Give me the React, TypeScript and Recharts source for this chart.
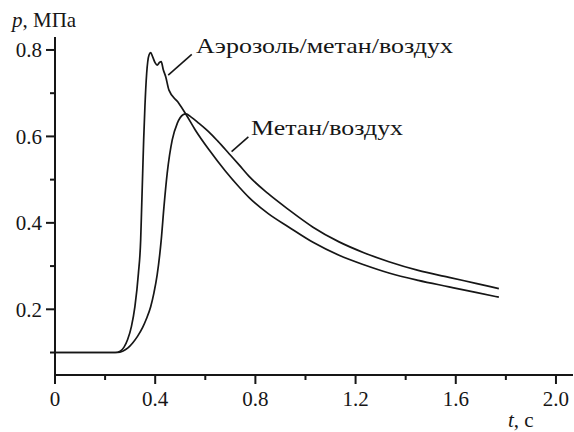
import { LineChart, Line, XAxis, YAxis, ReferenceLine, Customized } from 'recharts'

/* ─── data ─── */
const aerosolT = [
  0, 0.24, 0.26, 0.275, 0.29, 0.305, 0.319, 0.333, 0.342, 0.346, 0.35, 0.354, 0.359, 0.366,
  0.375, 0.382, 0.39, 0.4, 0.408, 0.417, 0.424, 0.432, 0.442, 0.455, 0.49, 0.522,
  0.56, 0.615, 0.68, 0.735, 0.774, 0.85, 0.934, 1.03, 1.134, 1.233, 1.333, 1.45,
  1.573, 1.68, 1.772,
]
const aerosolP = [
  0.1, 0.1, 0.103, 0.112, 0.13, 0.16, 0.206, 0.283, 0.36, 0.437, 0.515, 0.592, 0.669, 0.746,
  0.788, 0.794, 0.784, 0.77, 0.765, 0.771, 0.773, 0.755, 0.738, 0.707, 0.68, 0.652,
  0.615, 0.569, 0.52, 0.483, 0.459, 0.422, 0.39, 0.355, 0.325, 0.303, 0.284, 0.267,
  0.252, 0.239, 0.228,
]
const methaneT = [
  0, 0.25, 0.27, 0.29, 0.31, 0.33, 0.35, 0.365, 0.382, 0.395, 0.408, 0.424, 0.435, 0.448,
  0.468, 0.488, 0.511, 0.522, 0.545, 0.575, 0.615, 0.65, 0.695, 0.735, 0.774, 0.85, 0.934,
  1.03, 1.134, 1.233, 1.333, 1.45, 1.573, 1.68, 1.772,
]
const methaneP = [
  0.1, 0.1, 0.103, 0.11, 0.122, 0.138, 0.158, 0.178, 0.206, 0.238, 0.28, 0.36, 0.437, 0.515,
  0.592, 0.63, 0.65, 0.652, 0.644, 0.63, 0.61, 0.589, 0.56, 0.534, 0.508, 0.468, 0.43,
  0.39, 0.356, 0.331, 0.31, 0.29, 0.274, 0.26, 0.248,
]

const xTickValues = [0, 0.2, 0.4, 0.6, 0.8, 1.0, 1.2, 1.4, 1.6, 1.8, 2.0]
const xTickLabels = ['0', '', '0.4', '', '0.8', '', '1.2', '', '1.6', '', '2.0']
const yTickValues = [0.1, 0.2, 0.3, 0.4, 0.5, 0.6, 0.7, 0.8]
const yTickLabels = ['', '0.2', '', '0.4', '', '0.6', '', '0.8']

const aerosolData = aerosolT.map((t, i) => ({ t, p: aerosolP[i] }))
const methaneData = methaneT.map((t, i) => ({ t, p: methaneP[i] }))

const FONT = "'Liberation Serif'"
const INK = '#161616'
const txt = { fontFamily: FONT, fontSize: 21 }

function labelFor(values: number[], labels: string[], v: number) {
  const i = values.findIndex((x) => Math.abs(x - v) < 1e-6)
  return i < 0 ? '' : labels[i]
}

function XTick({ x, y, payload }: any) {
  const label = labelFor(xTickValues, xTickLabels, payload.value)
  return (
    <g>
      <line x1={x} x2={x} y1={y} y2={y + (label ? 9 : 5)} stroke={INK} strokeWidth={2} />
      {label && (
        <text className="serif" x={x} y={y + 31} textAnchor="middle" fill={INK} style={txt}>
          {label}
        </text>
      )}
    </g>
  )
}

function YTick({ x, y, payload }: any) {
  const label = labelFor(yTickValues, yTickLabels, payload.value)
  return (
    <g>
      <line x1={x - (label ? 9 : 5)} x2={x} y1={y} y2={y} stroke={INK} strokeWidth={2} />
      {label && (
        <text className="serif" x={x - 13} y={y + 7.5} textAnchor="end" fill={INK} style={txt}>
          {label}
        </text>
      )}
    </g>
  )
}

function Annotations() {
  return (
    <g fill={INK}>
      <style>{".serif { font-family: 'Liberation Serif', serif !important; }"}</style>
      <text className="serif" x={12} y={27} style={txt}>
        <tspan style={{ fontStyle: 'italic' }}>p</tspan>, МПа
      </text>
      <text className="serif" x={508} y={427} style={txt}>
        <tspan style={{ fontStyle: 'italic' }}>t</tspan>, с
      </text>
      <text className="serif" x={196} y={53} style={txt} textLength={257} lengthAdjust="spacingAndGlyphs">
        Аэрозоль/метан/воздух
      </text>
      <text className="serif" x={251} y={135} style={txt} textLength={152} lengthAdjust="spacingAndGlyphs">
        Метан/воздух
      </text>
    </g>
  )
}

export default function App() {
  return (
    <div style={{ position: 'absolute', left: 0, top: 0 }}>
      <LineChart width={574} height={432} margin={{ top: 37, right: 1, bottom: 0, left: 0 }}>
        <XAxis
          type="number" dataKey="t" domain={[0, 2.068]} ticks={xTickValues}
          allowDataOverflow height={57} tickSize={0} tickMargin={0} tickLine={false}
          axisLine={{ stroke: INK, strokeWidth: 2 }} tick={<XTick />} interval={0}
        />
        <YAxis
          type="number" dataKey="p" domain={[0.048, 0.83]} ticks={yTickValues}
          allowDataOverflow width={55} tickSize={0} tickMargin={0} tickLine={false}
          axisLine={{ stroke: INK, strokeWidth: 2 }} tick={<YTick />} interval={0}
        />
        <ReferenceLine
          segment={[{ x: 0.452, y: 0.742 }, { x: 0.546, y: 0.79 }]}
          stroke={INK} strokeWidth={1.6}
        />
        <ReferenceLine
          segment={[{ x: 0.705, y: 0.565 }, { x: 0.772, y: 0.599 }]}
          stroke={INK} strokeWidth={1.6}
        />
        <Line
          data={aerosolData} dataKey="p" type="monotone" stroke={INK} strokeWidth={1.7}
          dot={false} activeDot={false} isAnimationActive={false}
        />
        <Line
          data={methaneData} dataKey="p" type="monotone" stroke={INK} strokeWidth={1.7}
          dot={false} activeDot={false} isAnimationActive={false}
        />
        <Customized component={<Annotations />} />
      </LineChart>
    </div>
  )
}
